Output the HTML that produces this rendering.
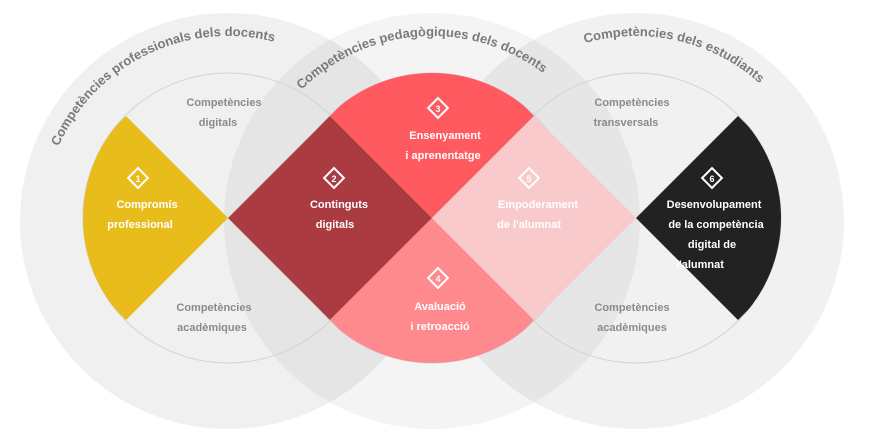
<!DOCTYPE html>
<html><head><meta charset="utf-8"><style>
html,body{margin:0;padding:0;background:#fff;}
svg{display:block;font-family:"Liberation Sans",sans-serif;}
.w{fill:#fff;font-weight:bold;font-size:11px;}
.g{fill:#8a8a8a;font-weight:bold;font-size:11px;}
.t{fill:#7a7a7a;font-weight:bold;font-size:13px;}
</style></head><body>
<svg width="877" height="435" viewBox="0 0 877 435">
<defs>
<path id="a1" d="M43,221 A185,185 0 0 1 413,221"/>
<path id="a2" d="M247,221 A185,185 0 0 1 617,221"/>
<path id="a3" d="M451,221 A185,185 0 0 1 821,221"/>
<clipPath id="cL"><circle cx="228" cy="218" r="145"/></clipPath>
<clipPath id="cM"><circle cx="432" cy="218" r="145"/></clipPath>
<clipPath id="cR"><circle cx="636" cy="218" r="145"/></clipPath>
</defs>
<circle cx="228" cy="221" r="208" fill="rgba(0,0,0,0.06)"/>
<circle cx="432" cy="221" r="208" fill="rgba(0,0,0,0.045)"/>
<circle cx="636" cy="221" r="208" fill="rgba(0,0,0,0.055)"/>
<circle cx="228" cy="218" r="145" fill="none" stroke="#d2d2d2" stroke-width="1"/>
<circle cx="432" cy="218" r="145" fill="none" stroke="#d2d2d2" stroke-width="1"/>
<circle cx="636" cy="218" r="145" fill="none" stroke="#d2d2d2" stroke-width="1"/>
<polygon clip-path="url(#cL)" points="24,218 126,116 228,218 126,320" fill="#E8BC1A"/>
<polygon points="228,218 330,116 432,218 330,320" fill="#A93B41"/>
<polygon clip-path="url(#cM)" points="330,116 432,14 534,116 432,218" fill="#FF5A5F"/>
<polygon clip-path="url(#cM)" points="330,320 432,218 534,320 432,422" fill="#FF8A8D"/>
<polygon points="432,218 534,116 636,218 534,320" fill="#F9CACB"/>
<polygon clip-path="url(#cR)" points="636,218 738,116 840,218 738,320" fill="#222222"/>
<text class="t"><textPath href="#a1" startOffset="35.6%" text-anchor="middle">Competències professionals dels docents</textPath></text>
<text class="t"><textPath href="#a2" startOffset="47.8%" text-anchor="middle">Competències pedagògiques dels docents</textPath></text>
<text class="t"><textPath href="#a3" startOffset="57.2%" text-anchor="middle">Competències dels estudiants</textPath></text>
<g fill="none" stroke="#fff" stroke-width="2">
<rect x="131" y="171" width="14" height="14" transform="rotate(45 138 178)"/>
<rect x="327" y="171" width="14" height="14" transform="rotate(45 334 178)"/>
<rect x="431" y="101" width="14" height="14" transform="rotate(45 438 108)"/>
<rect x="431" y="271" width="14" height="14" transform="rotate(45 438 278)"/>
<rect x="522" y="171" width="14" height="14" transform="rotate(45 529 178)"/>
<rect x="705" y="171" width="14" height="14" transform="rotate(45 712 178)"/>
</g>
<g class="w" text-anchor="middle" style="font-size:9px">
<text x="138" y="182">1</text><text x="334" y="182">2</text><text x="438" y="112">3</text>
<text x="438" y="282">4</text><text x="529" y="182">5</text><text x="712" y="182">6</text>
</g>
<g class="w" text-anchor="middle">
<text x="147" y="208">Compromís</text><text x="140" y="228">professional</text>
<text x="339" y="208">Continguts</text><text x="335" y="228">digitals</text>
<text x="445" y="139">Ensenyament</text><text x="443" y="159">i aprenentatge</text>
<text x="440" y="310">Avaluació</text><text x="440" y="330">i retroacció</text>
<text x="538" y="208">Empoderament</text><text x="529" y="228">de l'alumnat</text>
<text x="714" y="208">Desenvolupament</text><text x="716" y="228">de la competència</text>
<text x="712" y="248">digital de</text><text x="700" y="268">l'alumnat</text>
</g>
<g class="g" text-anchor="middle">
<text x="224" y="106">Competències</text><text x="218" y="126">digitals</text>
<text x="214" y="311">Competències</text><text x="212" y="331">acadèmiques</text>
<text x="632" y="106">Competències</text><text x="626" y="126">transversals</text>
<text x="632" y="311">Competències</text><text x="632" y="331">acadèmiques</text>
</g>
</svg>
</body></html>
